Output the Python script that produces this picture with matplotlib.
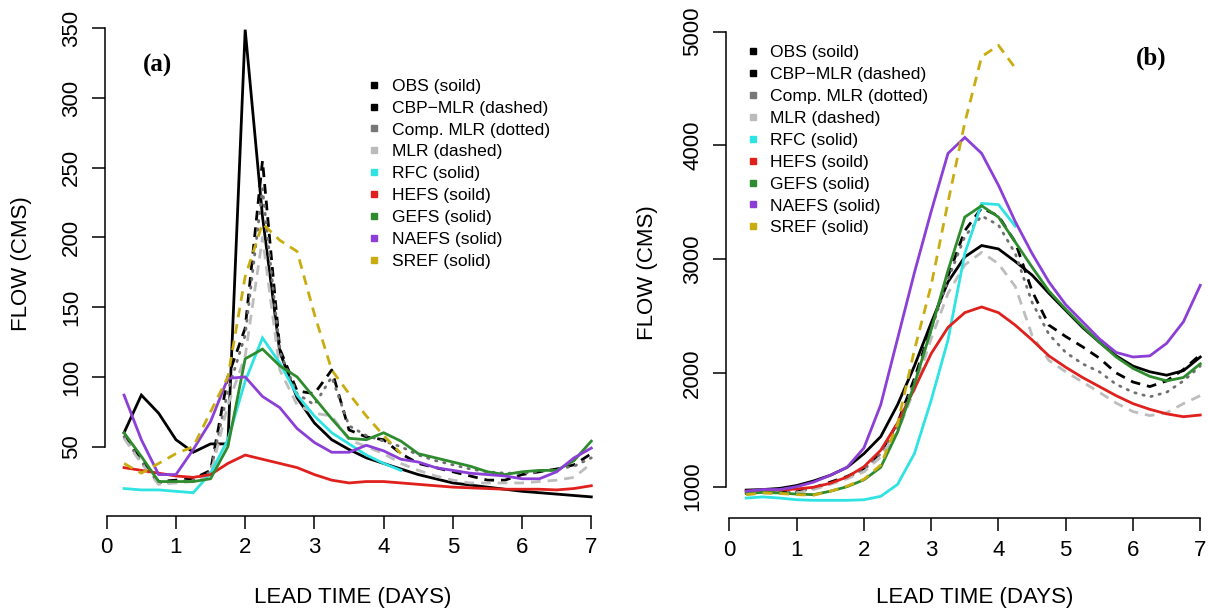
import matplotlib
matplotlib.use("Agg")
import matplotlib.pyplot as plt
from matplotlib.lines import Line2D

plt.rcParams['font.family'] = ['Liberation Sans', 'DejaVu Sans']

# ---------------- data ----------------
lead = [0.25, 0.5, 0.75, 1.0, 1.25, 1.5, 1.75, 2.0, 2.25, 2.5, 2.75, 3.0, 3.25, 3.5,
        3.75, 4.0, 4.25, 4.5, 4.75, 5.0, 5.25, 5.5, 5.75, 6.0, 6.25, 6.5, 6.75, 7.0]
lead_short = lead[:17]

names = ["OBS (soild)", "CBP\u2212MLR (dashed)", "Comp. MLR (dotted)", "MLR (dashed)",
         "RFC (solid)", "HEFS (soild)", "GEFS (solid)", "NAEFS (solid)", "SREF (solid)"]

# panel (a)
obs_a = [60, 87, 74, 55, 46, 52, 52, 349, 215, 118, 85, 67, 55, 48, 42, 38, 34, 30, 27, 24,
         22.5, 21, 19.5, 18, 17, 16, 15, 14]
cbp_a = [58, 40, 25, 26, 27, 33, 100, 135, 255, 120, 90, 88, 105, 62, 57, 55, 45, 38, 35, 32,
         29, 26, 26, 30, 32, 34, 37, 45]
comp_a = [57, 39, 24, 25, 26, 32, 90, 130, 235, 118, 88, 80, 100, 65, 58, 54, 50, 44, 40, 37,
          34, 32, 31, 31, 32, 34, 36, 42]
mlr_a = [56, 38, 23, 24, 25, 30, 80, 115, 200, 105, 80, 74, 72, 55, 50, 45, 38, 33, 29, 26,
         24, 24, 24, 24, 25, 26, 28, 38]
rfc_a = [20, 19, 19, 18, 17, 31, 55, 97, 128, 110, 87, 72, 60, 52, 44, 38, 33]
hefs_a = [35, 33, 31, 29, 28, 30, 38, 44, 41, 38, 35, 30, 26, 24, 25, 25, 24, 23, 22, 21,
          20.5, 20, 19.5, 19.5, 19.5, 19, 20, 22]
gefs_a = [60, 43, 25, 25, 25, 27, 50, 113, 120, 108, 100, 85, 70, 56, 55, 60, 54, 45, 42, 39,
          36, 32, 30, 32, 33, 33, 40, 54]
naefs_a = [87, 55, 30, 30, 48, 68, 99, 100, 86, 78, 63, 53, 46, 46, 51, 47, 41, 39, 35, 33,
           31, 30, 29, 27, 27, 32, 42, 49]
sref_a = [38, 31, 38, 45, 50, 75, 100, 172, 210, 198, 190, 145, 105, 88, 72, 58, 45]

# panel (b)
obs_b = [970, 975, 985, 1010, 1050, 1100, 1170, 1290, 1440, 1720, 2060, 2440, 2800, 3020,
         3120, 3090, 2980, 2860, 2700, 2550, 2400, 2270, 2150, 2060, 2010, 1980, 2020, 2140]
cbp_b = [950, 960, 955, 960, 990, 1040, 1090, 1160, 1300, 1560, 1950, 2400, 2850, 3250,
         3450, 3380, 3150, 2720, 2420, 2320, 2230, 2130, 2000, 1920, 1880, 1930, 2030, 2160]
comp_b = [945, 955, 950, 955, 985, 1030, 1080, 1150, 1290, 1530, 1920, 2380, 2820, 3200,
          3380, 3300, 3050, 2620, 2340, 2180, 2080, 2010, 1900, 1830, 1790, 1830, 1930, 2060]
mlr_b = [930, 945, 940, 945, 975, 1020, 1070, 1130, 1260, 1480, 1850, 2300, 2700, 2950,
         3060, 2960, 2760, 2330, 2110, 2010, 1920, 1830, 1735, 1660, 1625, 1650, 1730, 1800]
rfc_b = [900, 910, 900, 885, 880, 880, 880, 885, 915, 1020, 1290, 1760, 2290, 3050, 3490,
         3480, 3290]
hefs_b = [960, 965, 970, 980, 995, 1030, 1085, 1175, 1320, 1560, 1860, 2170, 2400, 2530,
          2580, 2530, 2420, 2290, 2150, 2050, 1960, 1880, 1800, 1730, 1680, 1640, 1615, 1630]
gefs_b = [940, 950, 945, 935, 930, 960, 1000, 1060, 1170, 1480, 1900, 2380, 2900, 3370,
          3470, 3370, 3150, 2930, 2720, 2560, 2410, 2270, 2140, 2040, 1970, 1930, 1960, 2080]
naefs_b = [960, 975, 975, 1000, 1040, 1100, 1170, 1340, 1720, 2300, 2880, 3420, 3930, 4070,
           3930, 3650, 3330, 3050, 2800, 2600, 2450, 2300, 2180, 2140, 2150, 2260, 2450, 2770]
sref_b = [930, 945, 940, 930, 925, 960, 1005, 1065, 1190, 1550, 2200, 2770, 3500, 4200,
          4780, 4880, 4680]

xticks = [0, 1, 2, 3, 4, 5, 6, 7]
yticks_a = [50, 100, 150, 200, 250, 300, 350]
yticks_b = [1000, 2000, 3000, 4000, 5000]

# ---------------- styles ----------------
colors = ["#000000", "#000000", "#707070", "#bdbdbd", "#2fe3e3", "#e0201c", "#2e8b2e",
          "#8c3fd6", "#c9ad10"]
legend_colors = ["#000000", "#000000", "#777777", "#bbbbbb", "#2fe3e3", "#e0201c",
                 "#2e8b2e", "#8c3fd6", "#c9ad10"]
dash = (0, (3.5, 2.5))
dot = (0, (0.5, 2.5))
styles = ["-", dash, dot, dash, "-", "-", "-", "-", dash]
LW = 2.0

W, H = 1208, 613
fig = plt.figure(figsize=(W / 100, H / 100), dpi=100)


def px_axes(left, right, top, bottom):
    return fig.add_axes([left / W, 1 - bottom / H, (right - left) / W, (bottom - top) / H])


def draw(ax, series, xlim, ylim, yticks, ybounds, leg_left, leg_top, label, label_xy):
    xs = [lead, lead, lead, lead, lead_short, lead, lead, lead, lead_short]
    for i, (x, y) in enumerate(zip(xs, series)):
        ln, = ax.plot(x, y, color=colors[i], lw=LW, linestyle=styles[i],
                      solid_joinstyle='miter', zorder=2 + i * 0.01)
        if styles[i] is dot:
            ln.set_dash_capstyle('round')
    ax.set_xlim(*xlim)
    ax.set_ylim(*ylim)
    ax.set_xticks(xticks)
    ax.set_yticks(yticks)
    for s in ['top', 'right']:
        ax.spines[s].set_visible(False)
    ax.spines['left'].set_bounds(*ybounds)
    ax.spines['bottom'].set_bounds(0, 7)
    for s in ['left', 'bottom']:
        ax.spines[s].set_linewidth(1.1)
    ax.tick_params(axis='both', length=9.4, width=1.1, labelsize=16, direction='out')
    ax.tick_params(axis='x', pad=6)
    ax.tick_params(axis='y', pad=7, labelrotation=90)
    for t in ax.get_yticklabels():
        t.set_verticalalignment('center')
    ax.set_xlabel("LEAD TIME (DAYS)", fontsize=16)
    ax.set_ylabel("FLOW (CMS)", fontsize=16)
    ax.xaxis.label.set_verticalalignment('center')
    ax.yaxis.label.set_verticalalignment('center')

    handles = [Line2D([], [], marker='s', linestyle='none', color=c, markersize=4.5)
               for c in legend_colors]
    ax.legend(handles, names, loc='upper left',
              bbox_to_anchor=(leg_left / W, 1 - leg_top / H), bbox_transform=fig.transFigure,
              frameon=False, fontsize=12.6, handlelength=0.8, handletextpad=0.6,
              labelspacing=0.38, borderpad=0, borderaxespad=0)
    fig.text(label_xy[0] / W, 1 - label_xy[1] / H, label, fontsize=18, fontweight='bold',
             family='Liberation Serif', ha='center', va='center')


# panel (a)
axa = px_axes(105, 610, 11, 516)
draw(axa, [obs_a, cbp_a, comp_a, mlr_a, rfc_a, hefs_a, gefs_a, naefs_a, sref_a],
     (-0.025, 7.27), (0.3, 362.4), yticks_a, (50, 350), 367, 78.5, "(a)", (158, 65))
axa.xaxis.set_label_coords(0.49, -(598 - 516) / 505)
axa.yaxis.set_label_coords((22 - 105) / 505, 0.5)

# panel (b)
axb = px_axes(726, 1208, 27, 518.3)
draw(axb, [obs_b, cbp_b, comp_b, mlr_b, rfc_b, hefs_b, gefs_b, naefs_b, sref_b],
     (-0.05, 7.115), (722, 5041), yticks_b, (1000, 5000), 746, 45, "(b)", (1151, 58))
axb.xaxis.set_label_coords((975 - 726) / 482, -(598 - 518.3) / 491.3)
axb.yaxis.set_label_coords((647 - 726) / 482, 0.5)

fig.savefig("out.png", dpi=100)
